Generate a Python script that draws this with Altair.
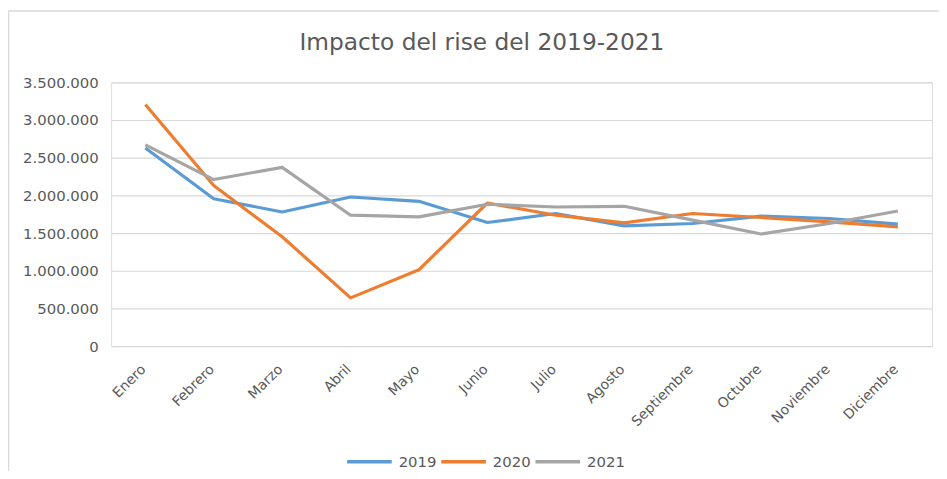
import altair as alt
import pandas as pd

months = ["Enero", "Febrero", "Marzo", "Abril", "Mayo", "Junio", "Julio",
          "Agosto", "Septiembre", "Octubre", "Noviembre", "Diciembre"]
years = ["2019", "2020", "2021"]
v2019 = [2630000, 1956000, 1780000, 1978000, 1921000, 1640000, 1759000,
         1596000, 1627000, 1724000, 1693000, 1618000]
v2020 = [3206000, 2131000, 1451000, 640000, 1013000, 1899000, 1737000,
         1636000, 1759000, 1706000, 1649000, 1583000]
v2021 = [2671000, 2210000, 2372000, 1737000, 1714000, 1882000, 1846000,
         1855000, 1671000, 1487000, 1627000, 1793000]
colors = ["#5B9BD5", "#ED7D31", "#A5A5A5"]
title_text = "Impacto del rise del 2019-2021"

rows = []
for yr, vals in zip(years, [v2019, v2020, v2021]):
    for m, v in zip(months, vals):
        rows.append({"Mes": m, "Año": yr, "Valor": v})
df = pd.DataFrame(rows)

FONT = "DejaVu Sans"
GREY = "#595959"

lines = alt.Chart(df).mark_line(strokeWidth=3.2, strokeJoin="round").encode(
    x=alt.X("Mes:N", sort=months, title=None,
            scale=alt.Scale(paddingInner=0, paddingOuter=0.5),
            axis=alt.Axis(labelAngle=-45, labelFont=FONT, labelFontSize=14,
                          labelColor=GREY, ticks=False, domain=False,
                          labelPadding=16, labelOffset=-7, grid=False)),
    y=alt.Y("Valor:Q", title=None,
            scale=alt.Scale(domain=[0, 3500000], nice=False),
            axis=alt.Axis(values=[0, 500000, 1000000, 1500000, 2000000,
                                  2500000, 3000000, 3500000],
                          format=",d", labelFont=FONT, labelFontSize=15,
                          labelColor=GREY, ticks=False, domain=False,
                          labelPadding=13, gridColor="#D9D9D9",
                          gridWidth=1.2)),
    color=alt.Color("Año:N", sort=years,
                    scale=alt.Scale(domain=years, range=colors),
                    legend=alt.Legend(orient="none", direction="horizontal",
                                      legendX=236, legendY=358, title=None,
                                      symbolType="stroke", symbolSize=2025,
                                      symbolStrokeWidth=3.5,
                                      labelFont=FONT, labelFontSize=15,
                                      labelColor=GREY, labelOffset=5,
                                      columnPadding=-3)),
)

frame = pd.DataFrame([{"t": title_text}])
left_border = alt.Chart(frame).mark_rule(color="#D9D9D9", strokeWidth=1.5).encode(
    x=alt.value(-103.5), y=alt.value(-72), y2=alt.value(400))
top_border = alt.Chart(frame).mark_rule(color="#D9D9D9", strokeWidth=1.5).encode(
    y=alt.value(-72), x=alt.value(-103.5), x2=alt.value(840))
title = alt.Chart(frame).mark_text(font=FONT, fontSize=23.5, color=GREY,
                                   align="center", baseline="alphabetic").encode(
    text="t:N", x=alt.value(374), y=alt.value(-33))

chart = alt.layer(lines, left_border, top_border, title).properties(
    width=828, height=266,
    autosize=alt.AutoSizeParams(type="none"),
    padding={"left": 104, "top": 73, "right": 7, "bottom": 124},
).configure_view(stroke=None).configure(
    locale={"number": {"decimal": ",", "thousands": ".", "grouping": [3],
                       "currency": ["", " €"]}}
)

chart.save("out.html", embed_options={"renderer": "svg", "actions": False})
